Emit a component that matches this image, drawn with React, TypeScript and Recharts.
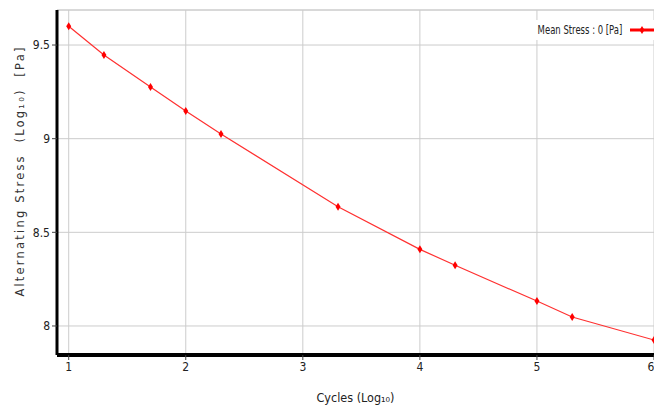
import React from "react";
import { LineChart, Line, XAxis, YAxis, CartesianGrid, ReferenceLine } from "recharts";

const cycles = [1, 1.301, 1.699, 2, 2.301, 3.301, 4, 4.301, 5, 5.301, 6];
const stress = [9.6, 9.447, 9.276, 9.148, 9.025, 8.637, 8.409, 8.324, 8.133, 8.048, 7.925];
const xTicks = [1, 2, 3, 4, 5, 6];
const yTicks = [8, 8.5, 9, 9.5];
const seriesName = "Mean Stress : 0 [Pa]";

const data = cycles.map((c, i) => ({ cycles: c, stress: stress[i] }));

const NARROW = "'Liberation Sans Narrow', 'DejaVu Sans Condensed', sans-serif";
const RED = "#ff0000";

function Diamond(props: any) {
  const { cx, cy } = props;
  if (cx == null || cy == null) return null;
  return <polygon points={`${cx},${cy - 4} ${cx + 2.5},${cy} ${cx},${cy + 4} ${cx - 2.5},${cy}`} fill={RED} />;
}

function LegendBox() {
  return (
    <div style={{ position: "absolute", right: 0, top: 20, display: "flex", alignItems: "center", background: "#fff", padding: "3px 0 3px 4px", fontFamily: NARROW, fontSize: 11.5, color: "#222" }}>
      <span style={{ display: "inline-block", transform: "scaleX(0.82)", transformOrigin: "right center" }}>{seriesName}</span>
      <svg width={26} height={10} style={{ marginLeft: 6 }}>
        <line x1={2} y1={5} x2={26} y2={5} stroke={RED} strokeWidth={3} />
        <polygon points="14,1 16.5,5 14,9 11.5,5" fill={RED} />
      </svg>
    </div>
  );
}

function YLabel(props: any) {
  const { viewBox } = props;
  const x = viewBox.x + 20;
  const y = viewBox.y + 161;
  return (
    <text x={x} y={y} transform={`rotate(-90 ${x} ${y})`} textAnchor="middle" dominantBaseline="central"
      fontFamily="'DejaVu Sans', sans-serif" fontSize={11.5} letterSpacing={2.2} fill="#333">
      {"Alternating Stress\u00a0\u00a0(Log₁₀)\u00a0\u00a0[Pa]"}
    </text>
  );
}

export default function App() {
  return (
    <div style={{ position: "absolute", left: 0, top: 0, width: 654, height: 407, background: "#fff" }}>
      <LineChart width={654} height={407} data={data} margin={{ top: 10, right: 0, bottom: 0, left: 0 }}>
        <CartesianGrid stroke="#cccccc" strokeWidth={1} />
        <ReferenceLine y={9.687} stroke="#cccccc" />
        <XAxis
          dataKey="cycles"
          type="number"
          domain={[0.9, 6]}
          ticks={xTicks}
          allowDataOverflow
          height={52}
          axisLine={{ stroke: "#000", strokeWidth: 4 }}
          tickLine={{ stroke: "#444" }}
          tickSize={5}
          tick={{ fontFamily: NARROW, fontSize: 12, fill: "#222" }}
          label={{ value: "Cycles (Log₁₀)", position: "insideBottom", offset: 5, fontFamily: NARROW, fontSize: 12.5, fill: "#222" }}
        />
        <YAxis
          type="number"
          domain={[7.845, 9.687]}
          ticks={yTicks}
          allowDataOverflow
          width={57}
          axisLine={{ stroke: "#000", strokeWidth: 3 }}
          tickLine={{ stroke: "#444" }}
          tickSize={5}
          tick={{ fontFamily: NARROW, fontSize: 12, fill: "#222" }}
          tickFormatter={(v: number) => String(v)}
          label={<YLabel />}
        />
        <Line
          dataKey="stress"
          name={seriesName}
          type="linear"
          stroke="#ff3030"
          strokeWidth={1.2}
          dot={<Diamond />}
          activeDot={false}
          isAnimationActive={false}
        />
      </LineChart>
      <LegendBox />
    </div>
  );
}
